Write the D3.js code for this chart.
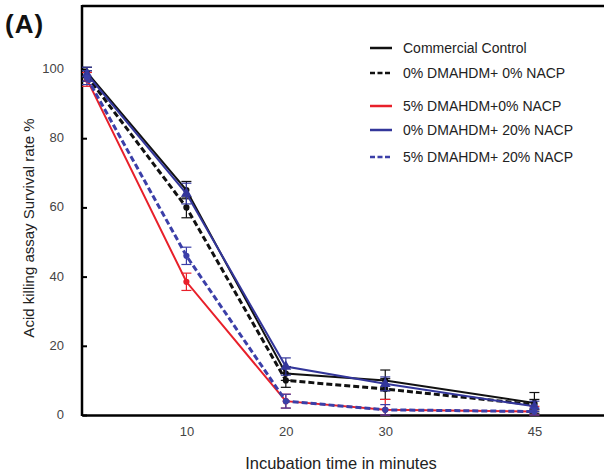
<!DOCTYPE html>
<meta charset="utf-8">
<script src="https://d3js.org/d3.v7.min.js"></script>
<style>
  body { margin: 0; background: #fff; }
  text { font-family: "Liberation Sans", Arial, sans-serif; }
</style>
<svg width="604" height="476"></svg>
<script>
// incubation times (minutes)
var times = [0, 10, 20, 30, 45];
var yTicks = [0, 20, 40, 60, 80, 100];
var xTicks = [10, 20, 30, 45];

var seriesNames = ["Commercial Control", "0% DMAHDM+ 0% NACP", "5% DMAHDM+0% NACP",
                   "0% DMAHDM+ 20% NACP", "5% DMAHDM+ 20% NACP"];
var controlVals  = [99, 65, 12, 10, 3.5];
var controlErr   = [1.5, 2.5, 2, 3, 3];
var zeroZeroVals = [98, 60, 10, 7.5, 3];
var zeroZeroErr  = [1.5, 3, 2, 3, 1.5];
var fiveZeroVals = [97, 38.5, 4, 1.5, 1];
var fiveZeroErr  = [2, 2.5, 2, 3, 1.5];
var zeroTwVals   = [98.5, 64, 14, 9, 2.5];
var zeroTwErr    = [2, 3, 2.5, 2, 1.5];
var fiveTwVals   = [97.5, 46, 4, 1.5, 1];
var fiveTwErr    = [2, 2.5, 2, 1.5, 1];

var series = [
  {name: seriesNames[0], vals: controlVals,  err: controlErr,  color: "#111", dash: null,  sym: "circle"},
  {name: seriesNames[1], vals: zeroZeroVals, err: zeroZeroErr, color: "#111", dash: "6,3", sym: "circle"},
  {name: seriesNames[2], vals: fiveZeroVals, err: fiveZeroErr, color: "#e8202a", dash: null, sym: "circle"},
  {name: seriesNames[3], vals: zeroTwVals,   err: zeroTwErr,   color: "#33369a", dash: null, sym: "triangle"},
  {name: seriesNames[4], vals: fiveTwVals,   err: fiveTwErr,   color: "#3b3fa8", dash: "6,3", sym: "circle"}
];

var svg = d3.select("svg");
var x = d3.scaleLinear().domain([-0.5, 52]).range([82, 604]);
var y = d3.scaleLinear().domain([0, 100]).range([415, 69]);

// top border
svg.append("line").attr("x1", 82).attr("x2", 604).attr("y1", 6).attr("y2", 6)
  .attr("stroke", "#000").attr("stroke-width", 2.5);

var yAxis = svg.append("g").attr("transform", "translate(82,0)")
  .call(d3.axisRight(y).tickValues(yTicks).tickSize(5).tickFormat(""));
yAxis.select(".domain").remove();
yAxis.selectAll("line").attr("stroke-width", 2);
svg.append("line").attr("x1", 82).attr("x2", 82).attr("y1", 5).attr("y2", 416)
  .attr("stroke", "#000").attr("stroke-width", 2.5);

svg.append("g").selectAll("text").data(yTicks).enter().append("text")
  .attr("x", 64).attr("y", function(d) { return y(d) + 4; })
  .attr("text-anchor", "end").attr("font-size", 13).attr("fill", "#444")
  .text(function(d) { return d; });

var xAxis = svg.append("g").attr("transform", "translate(0,415)")
  .call(d3.axisBottom(x).tickValues(xTicks).tickSize(0).tickPadding(12));
xAxis.select(".domain").attr("stroke-width", 2.5);
xAxis.selectAll("text").attr("font-size", 13).attr("fill", "#444")
  .attr("font-family", "Liberation Sans, Arial, sans-serif");

svg.append("text").attr("x", 341).attr("y", 469).attr("text-anchor", "middle")
  .attr("font-size", 16.5).attr("fill", "#222").text("Incubation time in minutes");
svg.append("text").attr("transform", "translate(34,228) rotate(-90)")
  .attr("text-anchor", "middle").attr("font-size", 15).attr("fill", "#222")
  .text("Acid killing assay Survival rate %");
svg.append("text").attr("x", 5).attr("y", 33).attr("font-size", 26)
  .attr("font-weight", "bold").attr("letter-spacing", 1).attr("fill", "#111").text("(A)");

var line = d3.line().x(function(d, i) { return x(times[i]); }).y(function(d) { return y(d); });

series.forEach(function(s) {
  var g = svg.append("g");
  g.selectAll("g.eb").data(s.vals).enter().append("g").attr("class", "eb")
    .each(function(d, i) {
      var e = d3.select(this), cx = x(times[i]);
      var lo = y(Math.max(0, d - s.err[i])), hi = y(d + s.err[i]);
      e.append("line").attr("x1", cx).attr("x2", cx).attr("y1", lo).attr("y2", hi);
      e.append("line").attr("x1", cx - 5).attr("x2", cx + 5).attr("y1", lo).attr("y2", lo);
      e.append("line").attr("x1", cx - 5).attr("x2", cx + 5).attr("y1", hi).attr("y2", hi);
    })
    .selectAll("line").attr("stroke", s.color).attr("stroke-width", 1.2);
  g.append("path").datum(s.vals).attr("d", line).attr("fill", "none")
    .attr("stroke", s.color).attr("stroke-width", s.dash ? 3 : 2)
    .attr("stroke-dasharray", s.dash);
  var sym = d3.symbol().type(s.sym === "triangle" ? d3.symbolTriangle : d3.symbolCircle).size(s.sym === "triangle" ? 50 : 30);
  g.selectAll("path.pt").data(s.vals).enter().append("path").attr("class", "pt")
    .attr("transform", function(d, i) { return "translate(" + x(times[i]) + "," + y(d) + ")"; })
    .attr("d", sym).attr("fill", s.color);
});

// legend
var legY = [48, 73, 106, 130, 157];
var leg = svg.append("g");
series.forEach(function(s, i) {
  leg.append("line").attr("x1", 370).attr("x2", 392).attr("y1", legY[i]).attr("y2", legY[i])
    .attr("stroke", s.color).attr("stroke-width", 2.5).attr("stroke-dasharray", s.dash ? "5,2.5" : null);
  leg.append("text").attr("x", 403).attr("y", legY[i] + 5).attr("font-size", 14).attr("fill", "#222")
    .text(s.name);
});
</script>
